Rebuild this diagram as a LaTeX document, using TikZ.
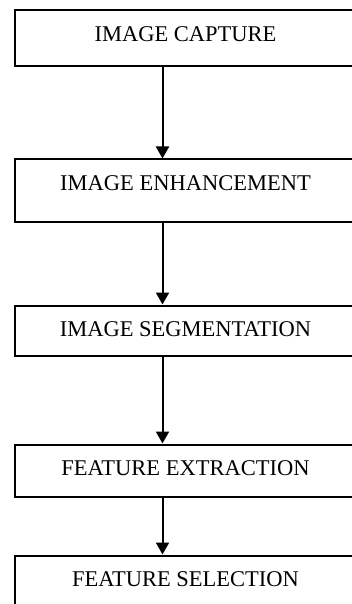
\documentclass[tikz,border=0pt]{standalone}
\usepackage{fontspec}
\setmainfont{Liberation Serif}
\usetikzlibrary{arrows.meta}

\tikzset{
	stagebox/.style={draw, line width=2pt, rectangle, inner xsep=0pt, inner ysep=0pt,
		minimum width=341pt, text height=31pt, anchor=north west,
		font=\fontsize{22.5}{26}\selectfont},
	flowarrow/.style={line width=2pt, -{Triangle[length=12pt,width=13pt]}}
}

\begin{document}
\begin{tikzpicture}[x=1pt,y=1pt]
		\useasboundingbox (0,0) rectangle (351,-604);
		\node (capture) [stagebox, text depth=25pt] at (14,-9.5) {IMAGE CAPTURE};
		\node (enhance) [stagebox, text depth=31pt] at ([yshift=-91pt]capture.south west) {IMAGE ENHANCEMENT};
		\node (segment) [stagebox, text depth=19pt] at ([yshift=-82pt]enhance.south west) {IMAGE SEGMENTATION};
		\node (extract) [stagebox, text depth=21pt] at ([yshift=-87pt]segment.south west) {FEATURE EXTRACTION};
		\node (select) [stagebox, text depth=40pt] at ([yshift=-57pt]extract.south west) {FEATURE SELECTION};
		\draw [flowarrow] ([xshift=148.5pt]capture.south west) -- ([xshift=148.5pt]enhance.north west);
		\draw [flowarrow] ([xshift=148.5pt]enhance.south west) -- ([xshift=148.5pt]segment.north west);
		\draw [flowarrow] ([xshift=148.5pt]segment.south west) -- ([xshift=148.5pt]extract.north west);
		\draw [flowarrow] ([xshift=148.5pt]extract.south west) -- ([xshift=148.5pt]select.north west);
		\end{tikzpicture}
\end{document}
